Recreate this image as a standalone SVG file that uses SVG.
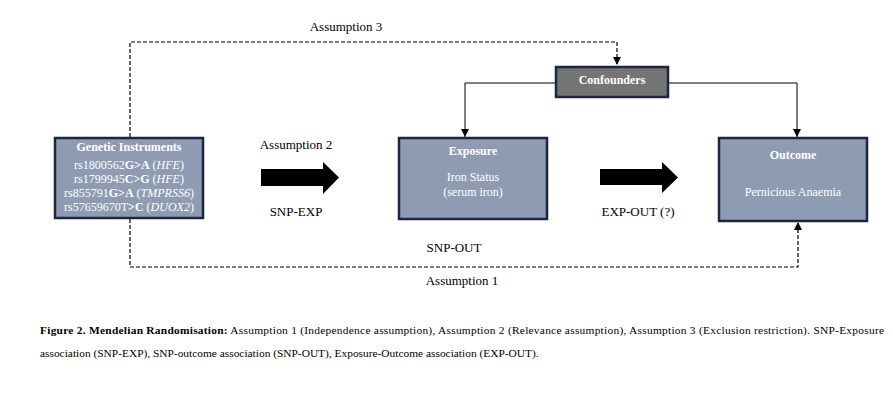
<svg xmlns="http://www.w3.org/2000/svg" width="893" height="418" viewBox="0 0 893 418">
<style>
.t{font-family:"Liberation Serif","Times New Roman",serif;fill:#000;}
.w{font-family:"Liberation Serif","Times New Roman",serif;fill:#fff;}
.box{fill:#8e9bb2;stroke:#1c2640;stroke-width:2.5;}
.conf{fill:#757575;stroke:#1c2640;stroke-width:2.5;}
.dash{fill:none;stroke:#000;stroke-width:1.2;stroke-dasharray:4 2;}
.solid{fill:none;stroke:#000;stroke-width:1;}
</style>
<defs>
<marker id="ah" viewBox="0 0 10 10" refX="10" refY="5" markerWidth="8" markerHeight="8" markerUnits="userSpaceOnUse" orient="auto">
<path d="M0,0 L10,5 L0,10 z" fill="#000"/>
</marker>
</defs>
<rect width="893" height="418" fill="#fff"/>
<g id="connectors">
<path class="dash" d="M130,137 V42 H617 V65" marker-end="url(#ah)"/>
<path class="dash" d="M130,219 V267 H798 V222" marker-end="url(#ah)"/>
<path class="solid" d="M556,83 H465 V137" marker-end="url(#ah)"/>
<path class="solid" d="M668,83 H797 V137" marker-end="url(#ah)"/>
<path id="arrow-snp-exp" d="M261,169 H323 V162 L339,177.5 L323,194 V186 H261 z" fill="#000"/>
<path id="arrow-exp-out" d="M600,169 H662 V162 L678,177.5 L662,193 V185 H600 z" fill="#000"/>
</g>
<g id="labels" class="t" font-size="13" text-anchor="middle">
<text x="346" y="31">Assumption 3</text>
<text x="296" y="149">Assumption 2</text>
<text x="296" y="216">SNP-EXP</text>
<text x="638" y="216">EXP-OUT (?)</text>
<text x="454" y="252">SNP-OUT</text>
<text x="462" y="285">Assumption 1</text>
</g>
<g id="genetic-instruments">
<rect class="box" x="55" y="138" width="148" height="80"/>
<g class="w" font-size="12" text-anchor="middle">
<text x="129" y="151" font-weight="bold">Genetic Instruments</text>
<text x="129" y="169">rs1800562<tspan font-weight="bold">G&gt;A</tspan> (<tspan font-style="italic">HFE</tspan>)</text>
<text x="129" y="183">rs1799945<tspan font-weight="bold">C&gt;G</tspan> (<tspan font-style="italic">HFE</tspan>)</text>
<text x="129" y="197">rs855791<tspan font-weight="bold">G&gt;A</tspan> (<tspan font-style="italic">TMPRSS6</tspan>)</text>
<text x="129" y="211">rs57659670T<tspan font-weight="bold">&gt;C</tspan> (<tspan font-style="italic">DUOX2</tspan>)</text>
</g>
</g>
<g id="exposure">
<rect class="box" x="399" y="138" width="148" height="81"/>
<g class="w" font-size="12" text-anchor="middle">
<text x="473" y="155" font-weight="bold">Exposure</text>
<text x="473" y="181">Iron Status</text>
<text x="473" y="196">(serum iron)</text>
</g>
</g>
<g id="outcome">
<rect class="box" x="719" y="138" width="148" height="83"/>
<g class="w" font-size="12" text-anchor="middle">
<text x="793" y="159" font-weight="bold">Outcome</text>
<text x="793" y="196">Pernicious Anaemia</text>
</g>
</g>
<g id="confounders">
<rect class="conf" x="556" y="67" width="112" height="30"/>
<text class="w" x="612" y="84" font-size="12" font-weight="bold" text-anchor="middle">Confounders</text>
</g>
<g id="caption" class="t" font-size="11.4">
<text x="40" y="334" textLength="844" lengthAdjust="spacing"><tspan font-weight="bold">Figure 2. Mendelian Randomisation:</tspan>  Assumption 1 (Independence assumption), Assumption 2 (Relevance assumption), Assumption 3 (Exclusion restriction). SNP-Exposure</text>
<text x="40" y="357">association (SNP-EXP), SNP-outcome association (SNP-OUT), Exposure-Outcome association (EXP-OUT).</text>
</g>
</svg>
